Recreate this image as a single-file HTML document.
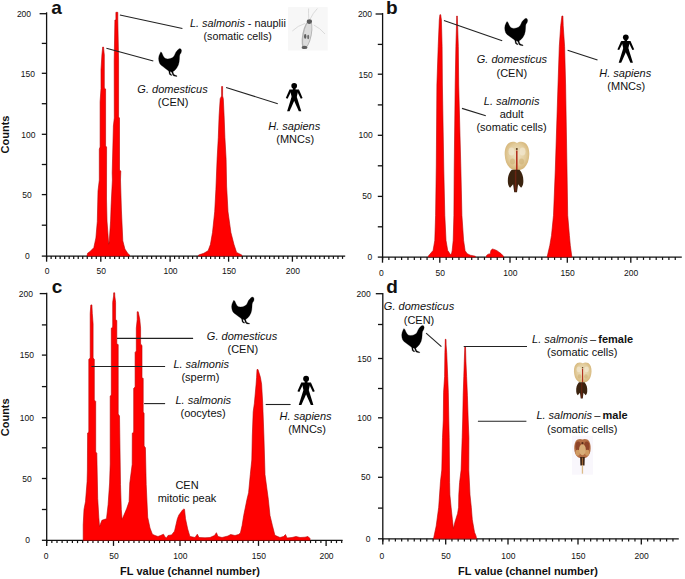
<!DOCTYPE html>
<html><head><meta charset="utf-8"><style>
html,body{margin:0;padding:0;background:#fff;}
body{width:685px;height:579px;overflow:hidden;}
svg{display:block;}
text{font-family:"Liberation Sans",sans-serif;fill:#111;}
.tk{font-size:8.5px;}
.an{font-size:11px;}
.ax{font-size:11px;font-weight:bold;}
.pl{font-size:19px;font-weight:bold;}
</style></head><body>
<svg width="685" height="579" viewBox="0 0 685 579">
<defs><radialGradient id="beige" cx="0.5" cy="0.45" r="0.6"><stop offset="0" stop-color="#efe3c6"/><stop offset="0.6" stop-color="#e2cc9c"/><stop offset="1" stop-color="#d2af6e"/></radialGradient></defs>
<rect width="685" height="579" fill="#fff"/>
<line x1="46.6" y1="12.3" x2="46.6" y2="258.7" stroke="#111" stroke-width="1.3"/>
<line x1="46.0" y1="256.1" x2="345.2" y2="256.1" stroke="#111" stroke-width="1.3"/>
<line x1="46.60" y1="256.1" x2="46.60" y2="261.7" stroke="#111" stroke-width="1.3"/>
<line x1="51.12" y1="256.1" x2="51.12" y2="258.9" stroke="#111" stroke-width="1.2"/>
<line x1="55.63" y1="256.1" x2="55.63" y2="258.9" stroke="#111" stroke-width="1.2"/>
<line x1="60.15" y1="256.1" x2="60.15" y2="258.9" stroke="#111" stroke-width="1.2"/>
<line x1="64.67" y1="256.1" x2="64.67" y2="258.9" stroke="#111" stroke-width="1.2"/>
<line x1="69.18" y1="256.1" x2="69.18" y2="258.9" stroke="#111" stroke-width="1.2"/>
<line x1="73.70" y1="256.1" x2="73.70" y2="258.9" stroke="#111" stroke-width="1.2"/>
<line x1="78.22" y1="256.1" x2="78.22" y2="258.9" stroke="#111" stroke-width="1.2"/>
<line x1="82.73" y1="256.1" x2="82.73" y2="258.9" stroke="#111" stroke-width="1.2"/>
<line x1="87.25" y1="256.1" x2="87.25" y2="258.9" stroke="#111" stroke-width="1.2"/>
<line x1="91.77" y1="256.1" x2="91.77" y2="258.9" stroke="#111" stroke-width="1.2"/>
<line x1="96.28" y1="256.1" x2="96.28" y2="258.9" stroke="#111" stroke-width="1.2"/>
<line x1="100.80" y1="256.1" x2="100.80" y2="261.7" stroke="#111" stroke-width="1.3"/>
<line x1="105.42" y1="256.1" x2="105.42" y2="258.9" stroke="#111" stroke-width="1.2"/>
<line x1="110.04" y1="256.1" x2="110.04" y2="258.9" stroke="#111" stroke-width="1.2"/>
<line x1="114.66" y1="256.1" x2="114.66" y2="258.9" stroke="#111" stroke-width="1.2"/>
<line x1="119.28" y1="256.1" x2="119.28" y2="258.9" stroke="#111" stroke-width="1.2"/>
<line x1="123.90" y1="256.1" x2="123.90" y2="258.9" stroke="#111" stroke-width="1.2"/>
<line x1="128.52" y1="256.1" x2="128.52" y2="258.9" stroke="#111" stroke-width="1.2"/>
<line x1="133.14" y1="256.1" x2="133.14" y2="258.9" stroke="#111" stroke-width="1.2"/>
<line x1="137.76" y1="256.1" x2="137.76" y2="258.9" stroke="#111" stroke-width="1.2"/>
<line x1="142.38" y1="256.1" x2="142.38" y2="258.9" stroke="#111" stroke-width="1.2"/>
<line x1="147.00" y1="256.1" x2="147.00" y2="258.9" stroke="#111" stroke-width="1.2"/>
<line x1="151.62" y1="256.1" x2="151.62" y2="258.9" stroke="#111" stroke-width="1.2"/>
<line x1="156.24" y1="256.1" x2="156.24" y2="258.9" stroke="#111" stroke-width="1.2"/>
<line x1="160.86" y1="256.1" x2="160.86" y2="258.9" stroke="#111" stroke-width="1.2"/>
<line x1="165.48" y1="256.1" x2="165.48" y2="258.9" stroke="#111" stroke-width="1.2"/>
<line x1="170.10" y1="256.1" x2="170.10" y2="261.7" stroke="#111" stroke-width="1.3"/>
<line x1="174.60" y1="256.1" x2="174.60" y2="258.9" stroke="#111" stroke-width="1.2"/>
<line x1="179.10" y1="256.1" x2="179.10" y2="258.9" stroke="#111" stroke-width="1.2"/>
<line x1="183.60" y1="256.1" x2="183.60" y2="258.9" stroke="#111" stroke-width="1.2"/>
<line x1="188.10" y1="256.1" x2="188.10" y2="258.9" stroke="#111" stroke-width="1.2"/>
<line x1="192.60" y1="256.1" x2="192.60" y2="258.9" stroke="#111" stroke-width="1.2"/>
<line x1="197.10" y1="256.1" x2="197.10" y2="258.9" stroke="#111" stroke-width="1.2"/>
<line x1="201.60" y1="256.1" x2="201.60" y2="258.9" stroke="#111" stroke-width="1.2"/>
<line x1="206.10" y1="256.1" x2="206.10" y2="258.9" stroke="#111" stroke-width="1.2"/>
<line x1="210.60" y1="256.1" x2="210.60" y2="258.9" stroke="#111" stroke-width="1.2"/>
<line x1="215.10" y1="256.1" x2="215.10" y2="258.9" stroke="#111" stroke-width="1.2"/>
<line x1="219.60" y1="256.1" x2="219.60" y2="258.9" stroke="#111" stroke-width="1.2"/>
<line x1="224.10" y1="256.1" x2="224.10" y2="258.9" stroke="#111" stroke-width="1.2"/>
<line x1="228.60" y1="256.1" x2="228.60" y2="261.7" stroke="#111" stroke-width="1.3"/>
<line x1="233.16" y1="256.1" x2="233.16" y2="258.9" stroke="#111" stroke-width="1.2"/>
<line x1="237.71" y1="256.1" x2="237.71" y2="258.9" stroke="#111" stroke-width="1.2"/>
<line x1="242.27" y1="256.1" x2="242.27" y2="258.9" stroke="#111" stroke-width="1.2"/>
<line x1="246.83" y1="256.1" x2="246.83" y2="258.9" stroke="#111" stroke-width="1.2"/>
<line x1="251.39" y1="256.1" x2="251.39" y2="258.9" stroke="#111" stroke-width="1.2"/>
<line x1="255.94" y1="256.1" x2="255.94" y2="258.9" stroke="#111" stroke-width="1.2"/>
<line x1="260.50" y1="256.1" x2="260.50" y2="258.9" stroke="#111" stroke-width="1.2"/>
<line x1="265.06" y1="256.1" x2="265.06" y2="258.9" stroke="#111" stroke-width="1.2"/>
<line x1="269.61" y1="256.1" x2="269.61" y2="258.9" stroke="#111" stroke-width="1.2"/>
<line x1="274.17" y1="256.1" x2="274.17" y2="258.9" stroke="#111" stroke-width="1.2"/>
<line x1="278.73" y1="256.1" x2="278.73" y2="258.9" stroke="#111" stroke-width="1.2"/>
<line x1="283.29" y1="256.1" x2="283.29" y2="258.9" stroke="#111" stroke-width="1.2"/>
<line x1="287.84" y1="256.1" x2="287.84" y2="258.9" stroke="#111" stroke-width="1.2"/>
<line x1="292.40" y1="256.1" x2="292.40" y2="261.7" stroke="#111" stroke-width="1.3"/>
<line x1="296.96" y1="256.1" x2="296.96" y2="258.9" stroke="#111" stroke-width="1.2"/>
<line x1="301.51" y1="256.1" x2="301.51" y2="258.9" stroke="#111" stroke-width="1.2"/>
<line x1="306.07" y1="256.1" x2="306.07" y2="258.9" stroke="#111" stroke-width="1.2"/>
<line x1="310.63" y1="256.1" x2="310.63" y2="258.9" stroke="#111" stroke-width="1.2"/>
<line x1="315.19" y1="256.1" x2="315.19" y2="258.9" stroke="#111" stroke-width="1.2"/>
<line x1="319.74" y1="256.1" x2="319.74" y2="258.9" stroke="#111" stroke-width="1.2"/>
<line x1="324.30" y1="256.1" x2="324.30" y2="258.9" stroke="#111" stroke-width="1.2"/>
<line x1="328.86" y1="256.1" x2="328.86" y2="258.9" stroke="#111" stroke-width="1.2"/>
<line x1="333.41" y1="256.1" x2="333.41" y2="258.9" stroke="#111" stroke-width="1.2"/>
<line x1="337.97" y1="256.1" x2="337.97" y2="258.9" stroke="#111" stroke-width="1.2"/>
<line x1="342.53" y1="256.1" x2="342.53" y2="258.9" stroke="#111" stroke-width="1.2"/>
<text x="47.00" y="273.8" class="tk" text-anchor="middle">0</text>
<text x="101.20" y="273.8" class="tk" text-anchor="middle">50</text>
<text x="170.50" y="273.8" class="tk" text-anchor="middle">100</text>
<text x="229.00" y="273.8" class="tk" text-anchor="middle">150</text>
<text x="292.80" y="273.8" class="tk" text-anchor="middle">200</text>
<line x1="39.6" y1="13.7" x2="46.6" y2="13.7" stroke="#111" stroke-width="1.3"/>
<line x1="41.8" y1="43.4" x2="46.6" y2="43.4" stroke="#111" stroke-width="1.3"/>
<line x1="41.8" y1="73.3" x2="46.6" y2="73.3" stroke="#111" stroke-width="1.3"/>
<line x1="41.8" y1="103.7" x2="46.6" y2="103.7" stroke="#111" stroke-width="1.3"/>
<line x1="41.8" y1="134.3" x2="46.6" y2="134.3" stroke="#111" stroke-width="1.3"/>
<line x1="41.8" y1="164.5" x2="46.6" y2="164.5" stroke="#111" stroke-width="1.3"/>
<line x1="41.8" y1="194.6" x2="46.6" y2="194.6" stroke="#111" stroke-width="1.3"/>
<line x1="41.8" y1="225.2" x2="46.6" y2="225.2" stroke="#111" stroke-width="1.3"/>
<line x1="41.8" y1="256.1" x2="46.6" y2="256.1" stroke="#111" stroke-width="1.3"/>
<text x="16.9" y="16.95" class="tk">200</text>
<text x="20.8" y="77.35" class="tk">150</text>
<text x="21.2" y="138.05" class="tk">100</text>
<text x="22.3" y="198.15" class="tk">50</text>
<text x="24.9" y="258.95" class="tk">0</text>
<text x="5.2" y="134.5" class="ax" text-anchor="middle" dominant-baseline="central" transform="rotate(-90 5.2 134.5)">Counts</text>
<line x1="382.6" y1="13.0" x2="382.6" y2="259.7" stroke="#111" stroke-width="1.3"/>
<line x1="382.0" y1="257.1" x2="681.8" y2="257.1" stroke="#111" stroke-width="1.3"/>
<line x1="382.50" y1="257.1" x2="382.50" y2="262.7" stroke="#111" stroke-width="1.3"/>
<line x1="388.87" y1="257.1" x2="388.87" y2="259.9" stroke="#111" stroke-width="1.2"/>
<line x1="395.23" y1="257.1" x2="395.23" y2="259.9" stroke="#111" stroke-width="1.2"/>
<line x1="401.60" y1="257.1" x2="401.60" y2="259.9" stroke="#111" stroke-width="1.2"/>
<line x1="407.97" y1="257.1" x2="407.97" y2="259.9" stroke="#111" stroke-width="1.2"/>
<line x1="414.33" y1="257.1" x2="414.33" y2="259.9" stroke="#111" stroke-width="1.2"/>
<line x1="420.70" y1="257.1" x2="420.70" y2="259.9" stroke="#111" stroke-width="1.2"/>
<line x1="427.07" y1="257.1" x2="427.07" y2="259.9" stroke="#111" stroke-width="1.2"/>
<line x1="433.43" y1="257.1" x2="433.43" y2="259.9" stroke="#111" stroke-width="1.2"/>
<line x1="439.80" y1="257.1" x2="439.80" y2="262.7" stroke="#111" stroke-width="1.3"/>
<line x1="446.18" y1="257.1" x2="446.18" y2="259.9" stroke="#111" stroke-width="1.2"/>
<line x1="452.56" y1="257.1" x2="452.56" y2="259.9" stroke="#111" stroke-width="1.2"/>
<line x1="458.95" y1="257.1" x2="458.95" y2="259.9" stroke="#111" stroke-width="1.2"/>
<line x1="465.33" y1="257.1" x2="465.33" y2="259.9" stroke="#111" stroke-width="1.2"/>
<line x1="471.71" y1="257.1" x2="471.71" y2="259.9" stroke="#111" stroke-width="1.2"/>
<line x1="478.09" y1="257.1" x2="478.09" y2="259.9" stroke="#111" stroke-width="1.2"/>
<line x1="484.47" y1="257.1" x2="484.47" y2="259.9" stroke="#111" stroke-width="1.2"/>
<line x1="490.85" y1="257.1" x2="490.85" y2="259.9" stroke="#111" stroke-width="1.2"/>
<line x1="497.24" y1="257.1" x2="497.24" y2="259.9" stroke="#111" stroke-width="1.2"/>
<line x1="503.62" y1="257.1" x2="503.62" y2="259.9" stroke="#111" stroke-width="1.2"/>
<line x1="510.00" y1="257.1" x2="510.00" y2="262.7" stroke="#111" stroke-width="1.3"/>
<line x1="516.37" y1="257.1" x2="516.37" y2="259.9" stroke="#111" stroke-width="1.2"/>
<line x1="522.73" y1="257.1" x2="522.73" y2="259.9" stroke="#111" stroke-width="1.2"/>
<line x1="529.10" y1="257.1" x2="529.10" y2="259.9" stroke="#111" stroke-width="1.2"/>
<line x1="535.47" y1="257.1" x2="535.47" y2="259.9" stroke="#111" stroke-width="1.2"/>
<line x1="541.83" y1="257.1" x2="541.83" y2="259.9" stroke="#111" stroke-width="1.2"/>
<line x1="548.20" y1="257.1" x2="548.20" y2="259.9" stroke="#111" stroke-width="1.2"/>
<line x1="554.57" y1="257.1" x2="554.57" y2="259.9" stroke="#111" stroke-width="1.2"/>
<line x1="560.93" y1="257.1" x2="560.93" y2="259.9" stroke="#111" stroke-width="1.2"/>
<line x1="567.30" y1="257.1" x2="567.30" y2="262.7" stroke="#111" stroke-width="1.3"/>
<line x1="573.65" y1="257.1" x2="573.65" y2="259.9" stroke="#111" stroke-width="1.2"/>
<line x1="580.00" y1="257.1" x2="580.00" y2="259.9" stroke="#111" stroke-width="1.2"/>
<line x1="586.35" y1="257.1" x2="586.35" y2="259.9" stroke="#111" stroke-width="1.2"/>
<line x1="592.70" y1="257.1" x2="592.70" y2="259.9" stroke="#111" stroke-width="1.2"/>
<line x1="599.05" y1="257.1" x2="599.05" y2="259.9" stroke="#111" stroke-width="1.2"/>
<line x1="605.40" y1="257.1" x2="605.40" y2="259.9" stroke="#111" stroke-width="1.2"/>
<line x1="611.75" y1="257.1" x2="611.75" y2="259.9" stroke="#111" stroke-width="1.2"/>
<line x1="618.10" y1="257.1" x2="618.10" y2="259.9" stroke="#111" stroke-width="1.2"/>
<line x1="624.45" y1="257.1" x2="624.45" y2="259.9" stroke="#111" stroke-width="1.2"/>
<line x1="630.80" y1="257.1" x2="630.80" y2="262.7" stroke="#111" stroke-width="1.3"/>
<line x1="637.15" y1="257.1" x2="637.15" y2="259.9" stroke="#111" stroke-width="1.2"/>
<line x1="643.50" y1="257.1" x2="643.50" y2="259.9" stroke="#111" stroke-width="1.2"/>
<line x1="649.85" y1="257.1" x2="649.85" y2="259.9" stroke="#111" stroke-width="1.2"/>
<line x1="656.20" y1="257.1" x2="656.20" y2="259.9" stroke="#111" stroke-width="1.2"/>
<line x1="662.55" y1="257.1" x2="662.55" y2="259.9" stroke="#111" stroke-width="1.2"/>
<line x1="668.90" y1="257.1" x2="668.90" y2="259.9" stroke="#111" stroke-width="1.2"/>
<line x1="675.25" y1="257.1" x2="675.25" y2="259.9" stroke="#111" stroke-width="1.2"/>
<text x="381.40" y="276.0" class="tk" text-anchor="middle">0</text>
<text x="440.20" y="276.0" class="tk" text-anchor="middle">50</text>
<text x="510.40" y="276.0" class="tk" text-anchor="middle">100</text>
<text x="567.70" y="276.0" class="tk" text-anchor="middle">150</text>
<text x="631.20" y="276.0" class="tk" text-anchor="middle">200</text>
<line x1="375.6" y1="14.0" x2="382.6" y2="14.0" stroke="#111" stroke-width="1.3"/>
<line x1="377.8" y1="44.4" x2="382.6" y2="44.4" stroke="#111" stroke-width="1.3"/>
<line x1="377.8" y1="74.2" x2="382.6" y2="74.2" stroke="#111" stroke-width="1.3"/>
<line x1="377.8" y1="104.9" x2="382.6" y2="104.9" stroke="#111" stroke-width="1.3"/>
<line x1="377.8" y1="135.3" x2="382.6" y2="135.3" stroke="#111" stroke-width="1.3"/>
<line x1="377.8" y1="165.8" x2="382.6" y2="165.8" stroke="#111" stroke-width="1.3"/>
<line x1="377.8" y1="196.4" x2="382.6" y2="196.4" stroke="#111" stroke-width="1.3"/>
<line x1="377.8" y1="226.8" x2="382.6" y2="226.8" stroke="#111" stroke-width="1.3"/>
<line x1="377.8" y1="257.1" x2="382.6" y2="257.1" stroke="#111" stroke-width="1.3"/>
<text x="357.9" y="17.05" class="tk">200</text>
<text x="358.6" y="77.55" class="tk">150</text>
<text x="358.6" y="138.35" class="tk">100</text>
<text x="362.2" y="199.25" class="tk">50</text>
<text x="367.5" y="260.35" class="tk">0</text>
<line x1="46.7" y1="292.8" x2="46.7" y2="542.9" stroke="#111" stroke-width="1.3"/>
<line x1="46.1" y1="540.3" x2="342.6" y2="540.3" stroke="#111" stroke-width="1.3"/>
<line x1="46.70" y1="540.3" x2="46.70" y2="545.9" stroke="#111" stroke-width="1.3"/>
<line x1="51.84" y1="540.3" x2="51.84" y2="543.1" stroke="#111" stroke-width="1.2"/>
<line x1="56.98" y1="540.3" x2="56.98" y2="543.1" stroke="#111" stroke-width="1.2"/>
<line x1="62.12" y1="540.3" x2="62.12" y2="543.1" stroke="#111" stroke-width="1.2"/>
<line x1="67.25" y1="540.3" x2="67.25" y2="543.1" stroke="#111" stroke-width="1.2"/>
<line x1="72.39" y1="540.3" x2="72.39" y2="543.1" stroke="#111" stroke-width="1.2"/>
<line x1="77.53" y1="540.3" x2="77.53" y2="543.1" stroke="#111" stroke-width="1.2"/>
<line x1="82.67" y1="540.3" x2="82.67" y2="543.1" stroke="#111" stroke-width="1.2"/>
<line x1="87.81" y1="540.3" x2="87.81" y2="543.1" stroke="#111" stroke-width="1.2"/>
<line x1="92.95" y1="540.3" x2="92.95" y2="543.1" stroke="#111" stroke-width="1.2"/>
<line x1="98.08" y1="540.3" x2="98.08" y2="543.1" stroke="#111" stroke-width="1.2"/>
<line x1="103.22" y1="540.3" x2="103.22" y2="543.1" stroke="#111" stroke-width="1.2"/>
<line x1="108.36" y1="540.3" x2="108.36" y2="543.1" stroke="#111" stroke-width="1.2"/>
<line x1="113.50" y1="540.3" x2="113.50" y2="545.9" stroke="#111" stroke-width="1.3"/>
<line x1="118.62" y1="540.3" x2="118.62" y2="543.1" stroke="#111" stroke-width="1.2"/>
<line x1="123.73" y1="540.3" x2="123.73" y2="543.1" stroke="#111" stroke-width="1.2"/>
<line x1="128.85" y1="540.3" x2="128.85" y2="543.1" stroke="#111" stroke-width="1.2"/>
<line x1="133.96" y1="540.3" x2="133.96" y2="543.1" stroke="#111" stroke-width="1.2"/>
<line x1="139.08" y1="540.3" x2="139.08" y2="543.1" stroke="#111" stroke-width="1.2"/>
<line x1="144.19" y1="540.3" x2="144.19" y2="543.1" stroke="#111" stroke-width="1.2"/>
<line x1="149.31" y1="540.3" x2="149.31" y2="543.1" stroke="#111" stroke-width="1.2"/>
<line x1="154.42" y1="540.3" x2="154.42" y2="543.1" stroke="#111" stroke-width="1.2"/>
<line x1="159.54" y1="540.3" x2="159.54" y2="543.1" stroke="#111" stroke-width="1.2"/>
<line x1="164.65" y1="540.3" x2="164.65" y2="543.1" stroke="#111" stroke-width="1.2"/>
<line x1="169.77" y1="540.3" x2="169.77" y2="543.1" stroke="#111" stroke-width="1.2"/>
<line x1="174.88" y1="540.3" x2="174.88" y2="543.1" stroke="#111" stroke-width="1.2"/>
<line x1="180.00" y1="540.3" x2="180.00" y2="545.9" stroke="#111" stroke-width="1.3"/>
<line x1="185.23" y1="540.3" x2="185.23" y2="543.1" stroke="#111" stroke-width="1.2"/>
<line x1="190.47" y1="540.3" x2="190.47" y2="543.1" stroke="#111" stroke-width="1.2"/>
<line x1="195.70" y1="540.3" x2="195.70" y2="543.1" stroke="#111" stroke-width="1.2"/>
<line x1="200.93" y1="540.3" x2="200.93" y2="543.1" stroke="#111" stroke-width="1.2"/>
<line x1="206.17" y1="540.3" x2="206.17" y2="543.1" stroke="#111" stroke-width="1.2"/>
<line x1="211.40" y1="540.3" x2="211.40" y2="543.1" stroke="#111" stroke-width="1.2"/>
<line x1="216.63" y1="540.3" x2="216.63" y2="543.1" stroke="#111" stroke-width="1.2"/>
<line x1="221.87" y1="540.3" x2="221.87" y2="543.1" stroke="#111" stroke-width="1.2"/>
<line x1="227.10" y1="540.3" x2="227.10" y2="543.1" stroke="#111" stroke-width="1.2"/>
<line x1="232.33" y1="540.3" x2="232.33" y2="543.1" stroke="#111" stroke-width="1.2"/>
<line x1="237.57" y1="540.3" x2="237.57" y2="543.1" stroke="#111" stroke-width="1.2"/>
<line x1="242.80" y1="540.3" x2="242.80" y2="543.1" stroke="#111" stroke-width="1.2"/>
<line x1="248.03" y1="540.3" x2="248.03" y2="543.1" stroke="#111" stroke-width="1.2"/>
<line x1="253.27" y1="540.3" x2="253.27" y2="543.1" stroke="#111" stroke-width="1.2"/>
<line x1="258.50" y1="540.3" x2="258.50" y2="545.9" stroke="#111" stroke-width="1.3"/>
<line x1="263.70" y1="540.3" x2="263.70" y2="543.1" stroke="#111" stroke-width="1.2"/>
<line x1="268.90" y1="540.3" x2="268.90" y2="543.1" stroke="#111" stroke-width="1.2"/>
<line x1="274.10" y1="540.3" x2="274.10" y2="543.1" stroke="#111" stroke-width="1.2"/>
<line x1="279.30" y1="540.3" x2="279.30" y2="543.1" stroke="#111" stroke-width="1.2"/>
<line x1="284.50" y1="540.3" x2="284.50" y2="543.1" stroke="#111" stroke-width="1.2"/>
<line x1="289.70" y1="540.3" x2="289.70" y2="543.1" stroke="#111" stroke-width="1.2"/>
<line x1="294.90" y1="540.3" x2="294.90" y2="543.1" stroke="#111" stroke-width="1.2"/>
<line x1="300.10" y1="540.3" x2="300.10" y2="543.1" stroke="#111" stroke-width="1.2"/>
<line x1="305.30" y1="540.3" x2="305.30" y2="543.1" stroke="#111" stroke-width="1.2"/>
<line x1="310.50" y1="540.3" x2="310.50" y2="543.1" stroke="#111" stroke-width="1.2"/>
<line x1="315.70" y1="540.3" x2="315.70" y2="543.1" stroke="#111" stroke-width="1.2"/>
<line x1="320.90" y1="540.3" x2="320.90" y2="543.1" stroke="#111" stroke-width="1.2"/>
<line x1="326.10" y1="540.3" x2="326.10" y2="545.9" stroke="#111" stroke-width="1.3"/>
<line x1="331.30" y1="540.3" x2="331.30" y2="543.1" stroke="#111" stroke-width="1.2"/>
<line x1="336.50" y1="540.3" x2="336.50" y2="543.1" stroke="#111" stroke-width="1.2"/>
<line x1="341.70" y1="540.3" x2="341.70" y2="543.1" stroke="#111" stroke-width="1.2"/>
<text x="46.20" y="558.9" class="tk" text-anchor="middle">0</text>
<text x="113.90" y="558.9" class="tk" text-anchor="middle">50</text>
<text x="180.40" y="558.9" class="tk" text-anchor="middle">100</text>
<text x="258.90" y="558.9" class="tk" text-anchor="middle">150</text>
<text x="326.50" y="558.9" class="tk" text-anchor="middle">200</text>
<line x1="39.7" y1="293.6" x2="46.7" y2="293.6" stroke="#111" stroke-width="1.3"/>
<line x1="41.9" y1="324.9" x2="46.7" y2="324.9" stroke="#111" stroke-width="1.3"/>
<line x1="41.9" y1="355.1" x2="46.7" y2="355.1" stroke="#111" stroke-width="1.3"/>
<line x1="41.9" y1="386.6" x2="46.7" y2="386.6" stroke="#111" stroke-width="1.3"/>
<line x1="41.9" y1="417.7" x2="46.7" y2="417.7" stroke="#111" stroke-width="1.3"/>
<line x1="41.9" y1="447.8" x2="46.7" y2="447.8" stroke="#111" stroke-width="1.3"/>
<line x1="41.9" y1="478.5" x2="46.7" y2="478.5" stroke="#111" stroke-width="1.3"/>
<line x1="41.9" y1="509.5" x2="46.7" y2="509.5" stroke="#111" stroke-width="1.3"/>
<line x1="41.9" y1="540.3" x2="46.7" y2="540.3" stroke="#111" stroke-width="1.3"/>
<text x="18.7" y="296.85" class="tk">200</text>
<text x="19.7" y="358.25" class="tk">150</text>
<text x="19.7" y="420.75" class="tk">100</text>
<text x="22.2" y="481.55" class="tk">50</text>
<text x="25.2" y="543.35" class="tk">0</text>
<text x="5.2" y="417.3" class="ax" text-anchor="middle" dominant-baseline="central" transform="rotate(-90 5.2 417.3)">Counts</text>
<line x1="382.8" y1="292.9" x2="382.8" y2="541.4" stroke="#111" stroke-width="1.3"/>
<line x1="382.2" y1="538.8" x2="678.8" y2="538.8" stroke="#111" stroke-width="1.3"/>
<line x1="382.80" y1="538.8" x2="382.80" y2="544.4" stroke="#111" stroke-width="1.3"/>
<line x1="389.09" y1="538.8" x2="389.09" y2="541.6" stroke="#111" stroke-width="1.2"/>
<line x1="395.38" y1="538.8" x2="395.38" y2="541.6" stroke="#111" stroke-width="1.2"/>
<line x1="401.67" y1="538.8" x2="401.67" y2="541.6" stroke="#111" stroke-width="1.2"/>
<line x1="407.96" y1="538.8" x2="407.96" y2="541.6" stroke="#111" stroke-width="1.2"/>
<line x1="414.25" y1="538.8" x2="414.25" y2="541.6" stroke="#111" stroke-width="1.2"/>
<line x1="420.54" y1="538.8" x2="420.54" y2="541.6" stroke="#111" stroke-width="1.2"/>
<line x1="426.83" y1="538.8" x2="426.83" y2="541.6" stroke="#111" stroke-width="1.2"/>
<line x1="433.12" y1="538.8" x2="433.12" y2="541.6" stroke="#111" stroke-width="1.2"/>
<line x1="439.41" y1="538.8" x2="439.41" y2="541.6" stroke="#111" stroke-width="1.2"/>
<line x1="445.70" y1="538.8" x2="445.70" y2="544.4" stroke="#111" stroke-width="1.3"/>
<line x1="451.93" y1="538.8" x2="451.93" y2="541.6" stroke="#111" stroke-width="1.2"/>
<line x1="458.16" y1="538.8" x2="458.16" y2="541.6" stroke="#111" stroke-width="1.2"/>
<line x1="464.39" y1="538.8" x2="464.39" y2="541.6" stroke="#111" stroke-width="1.2"/>
<line x1="470.62" y1="538.8" x2="470.62" y2="541.6" stroke="#111" stroke-width="1.2"/>
<line x1="476.85" y1="538.8" x2="476.85" y2="541.6" stroke="#111" stroke-width="1.2"/>
<line x1="483.08" y1="538.8" x2="483.08" y2="541.6" stroke="#111" stroke-width="1.2"/>
<line x1="489.31" y1="538.8" x2="489.31" y2="541.6" stroke="#111" stroke-width="1.2"/>
<line x1="495.54" y1="538.8" x2="495.54" y2="541.6" stroke="#111" stroke-width="1.2"/>
<line x1="501.77" y1="538.8" x2="501.77" y2="541.6" stroke="#111" stroke-width="1.2"/>
<line x1="508.00" y1="538.8" x2="508.00" y2="544.4" stroke="#111" stroke-width="1.3"/>
<line x1="514.36" y1="538.8" x2="514.36" y2="541.6" stroke="#111" stroke-width="1.2"/>
<line x1="520.73" y1="538.8" x2="520.73" y2="541.6" stroke="#111" stroke-width="1.2"/>
<line x1="527.09" y1="538.8" x2="527.09" y2="541.6" stroke="#111" stroke-width="1.2"/>
<line x1="533.45" y1="538.8" x2="533.45" y2="541.6" stroke="#111" stroke-width="1.2"/>
<line x1="539.82" y1="538.8" x2="539.82" y2="541.6" stroke="#111" stroke-width="1.2"/>
<line x1="546.18" y1="538.8" x2="546.18" y2="541.6" stroke="#111" stroke-width="1.2"/>
<line x1="552.55" y1="538.8" x2="552.55" y2="541.6" stroke="#111" stroke-width="1.2"/>
<line x1="558.91" y1="538.8" x2="558.91" y2="541.6" stroke="#111" stroke-width="1.2"/>
<line x1="565.27" y1="538.8" x2="565.27" y2="541.6" stroke="#111" stroke-width="1.2"/>
<line x1="571.64" y1="538.8" x2="571.64" y2="541.6" stroke="#111" stroke-width="1.2"/>
<line x1="578.00" y1="538.8" x2="578.00" y2="544.4" stroke="#111" stroke-width="1.3"/>
<line x1="584.33" y1="538.8" x2="584.33" y2="541.6" stroke="#111" stroke-width="1.2"/>
<line x1="590.66" y1="538.8" x2="590.66" y2="541.6" stroke="#111" stroke-width="1.2"/>
<line x1="596.99" y1="538.8" x2="596.99" y2="541.6" stroke="#111" stroke-width="1.2"/>
<line x1="603.32" y1="538.8" x2="603.32" y2="541.6" stroke="#111" stroke-width="1.2"/>
<line x1="609.65" y1="538.8" x2="609.65" y2="541.6" stroke="#111" stroke-width="1.2"/>
<line x1="615.98" y1="538.8" x2="615.98" y2="541.6" stroke="#111" stroke-width="1.2"/>
<line x1="622.31" y1="538.8" x2="622.31" y2="541.6" stroke="#111" stroke-width="1.2"/>
<line x1="628.64" y1="538.8" x2="628.64" y2="541.6" stroke="#111" stroke-width="1.2"/>
<line x1="634.97" y1="538.8" x2="634.97" y2="541.6" stroke="#111" stroke-width="1.2"/>
<line x1="641.30" y1="538.8" x2="641.30" y2="544.4" stroke="#111" stroke-width="1.3"/>
<line x1="647.63" y1="538.8" x2="647.63" y2="541.6" stroke="#111" stroke-width="1.2"/>
<line x1="653.96" y1="538.8" x2="653.96" y2="541.6" stroke="#111" stroke-width="1.2"/>
<line x1="660.29" y1="538.8" x2="660.29" y2="541.6" stroke="#111" stroke-width="1.2"/>
<line x1="666.62" y1="538.8" x2="666.62" y2="541.6" stroke="#111" stroke-width="1.2"/>
<line x1="672.95" y1="538.8" x2="672.95" y2="541.6" stroke="#111" stroke-width="1.2"/>
<text x="381.90" y="558.6" class="tk" text-anchor="middle">0</text>
<text x="446.10" y="558.6" class="tk" text-anchor="middle">50</text>
<text x="508.40" y="558.6" class="tk" text-anchor="middle">100</text>
<text x="578.40" y="558.6" class="tk" text-anchor="middle">150</text>
<text x="641.70" y="558.6" class="tk" text-anchor="middle">200</text>
<line x1="375.8" y1="293.7" x2="382.8" y2="293.7" stroke="#111" stroke-width="1.3"/>
<line x1="378.0" y1="324.5" x2="382.8" y2="324.5" stroke="#111" stroke-width="1.3"/>
<line x1="378.0" y1="358.5" x2="382.8" y2="358.5" stroke="#111" stroke-width="1.3"/>
<line x1="378.0" y1="388.5" x2="382.8" y2="388.5" stroke="#111" stroke-width="1.3"/>
<line x1="378.0" y1="417.8" x2="382.8" y2="417.8" stroke="#111" stroke-width="1.3"/>
<line x1="378.0" y1="447.5" x2="382.8" y2="447.5" stroke="#111" stroke-width="1.3"/>
<line x1="378.0" y1="477.3" x2="382.8" y2="477.3" stroke="#111" stroke-width="1.3"/>
<line x1="378.0" y1="508.1" x2="382.8" y2="508.1" stroke="#111" stroke-width="1.3"/>
<line x1="378.0" y1="538.8" x2="382.8" y2="538.8" stroke="#111" stroke-width="1.3"/>
<text x="356.6" y="296.95" class="tk">200</text>
<text x="357.2" y="361.65" class="tk">150</text>
<text x="357.2" y="421.05" class="tk">100</text>
<text x="361.1" y="480.35" class="tk">50</text>
<text x="365.8" y="541.55" class="tk">0</text>
<text x="190" y="575.2" class="ax" text-anchor="middle">FL value (channel number)</text>
<text x="528" y="575.0" class="ax" text-anchor="middle">FL value (channel number)</text>
<text x="51.3" y="13.8" class="pl">a</text>
<text x="386.0" y="13.8" class="pl">b</text>
<text x="51.8" y="293.4" class="pl">c</text>
<text x="386.3" y="293.4" class="pl">d</text>
<path d="M87.0,256.1 L87.6,253.2 L89.7,251.8 L93.8,247.7 L95.9,238.0 L97.3,221.4 L98.0,191.0 L99.3,180.0 L99.3,149.0 L100.1,147.0 L100.1,101.7 L101.0,88.4 L101.0,70.0 L101.9,55.0 L102.6,48.0 L102.6,47.1 L103.6,47.1 L103.6,48.0 L104.3,55.0 L104.3,88.0 L105.6,89.0 L105.6,146.0 L106.6,147.0 L106.5,199.0 L107.0,221.0 L108.7,244.2 L109.3,240.8 L110.6,221.0 L111.1,206.0 L112.4,180.0 L112.2,173.0 L113.4,126.0 L114.3,118.0 L114.2,61.0 L114.9,20.0 L115.9,20.0 L115.9,12.3 L117.8,12.3 L117.8,20.0 L118.6,61.0 L118.6,117.0 L119.5,118.0 L119.5,170.0 L120.8,171.0 L120.5,180.0 L121.4,210.0 L122.8,240.8 L124.9,249.0 L127.7,253.2 L129.5,255.0 L129.5,256.1 Z" fill="#ff0000" stroke="#b80000" stroke-width="0.6" stroke-linejoin="round"/>
<path d="M198.6,256.1 L198.6,255.0 L203.8,253.3 L208.1,250.7 L210.4,244.6 L212.5,232.5 L214.7,211.8 L215.9,189.4 L217.1,159.3 L218.3,137.5 L219.1,115.8 L220.2,98.7 L221.6,96.0 L221.6,86.5 L222.6,86.5 L222.6,96.0 L223.3,98.7 L224.1,115.8 L224.9,137.5 L226.1,159.3 L226.6,186.0 L228.0,211.8 L230.9,232.5 L234.0,244.6 L236.6,252.4 L241.8,255.0 L241.8,256.1 Z" fill="#ff0000" stroke="#b80000" stroke-width="0.6" stroke-linejoin="round"/>
<path d="M428.4,257.1 L428.4,256.0 L433.1,250.4 L434.8,240.4 L435.6,215.3 L436.3,165.0 L436.9,85.0 L438.2,46.4 L439.3,20.0 L439.9,14.7 L440.7,14.7 L441.4,20.0 L442.1,46.4 L442.4,85.0 L443.8,170.0 L444.8,215.3 L446.0,240.4 L447.7,250.4 L450.5,254.6 L451.5,254.0 L452.2,250.4 L453.2,240.4 L453.9,215.3 L454.2,170.0 L455.2,85.0 L455.9,46.4 L456.5,25.0 L456.7,16.0 L457.3,16.0 L457.6,25.0 L458.3,46.4 L458.7,85.0 L460.9,170.0 L461.9,215.3 L463.6,240.4 L465.1,250.7 L467.2,253.7 L470.3,255.2 L475.3,256.2 L475.3,257.1 Z" fill="#ff0000" stroke="#b80000" stroke-width="0.6" stroke-linejoin="round"/>
<path d="M486.4,257.1 L486.6,255.4 L488.2,254.2 L490.2,253.9 L490.9,250.6 L492.4,248.9 L493.8,249.4 L495.4,249.9 L497.0,250.7 L499.0,252.2 L501.0,253.6 L502.9,255.6 L503.6,257.1 Z" fill="#ff0000" stroke="#b80000" stroke-width="0.6" stroke-linejoin="round"/>
<path d="M547.1,257.1 L549.8,245.4 L551.5,235.4 L553.5,215.3 L555.3,170.0 L558.0,85.0 L559.3,46.4 L560.7,25.7 L561.9,16.0 L562.9,16.0 L563.2,25.7 L564.6,46.4 L565.6,85.0 L567.0,170.0 L567.7,215.3 L569.4,235.4 L570.3,245.4 L571.9,257.1 Z" fill="#ff0000" stroke="#b80000" stroke-width="0.6" stroke-linejoin="round"/>
<path d="M83.2,540.3 L83.2,525.0 L84.0,509.4 L85.5,501.6 L87.1,481.4 L87.4,470.0 L87.6,433.0 L88.8,432.0 L88.8,359.3 L90.2,358.0 L90.2,313.5 L90.8,305.0 L90.9,304.9 L91.9,304.9 L92.3,313.5 L93.1,323.9 L93.1,358.0 L94.3,359.3 L94.3,400.0 L95.7,401.4 L95.7,452.0 L96.8,453.2 L97.7,498.5 L98.8,517.2 L99.5,526.5 L101.9,520.3 L106.5,518.7 L108.1,504.7 L109.6,483.0 L110.2,464.0 L110.2,396.0 L111.3,395.0 L111.3,328.2 L112.7,327.0 L112.7,302.3 L113.6,296.0 L113.7,292.8 L114.7,292.8 L114.8,296.0 L115.6,302.3 L115.6,320.0 L116.8,320.4 L116.8,344.0 L118.2,344.6 L118.2,414.0 L119.5,415.9 L120.5,484.5 L121.3,509.4 L122.1,519.5 L126.7,508.6 L129.1,501.6 L129.8,483.0 L132.2,464.3 L132.3,433.2 L133.7,432.0 L133.7,388.3 L135.1,387.0 L135.1,352.4 L136.3,351.0 L136.3,328.2 L137.2,319.5 L137.2,311.8 L138.2,311.8 L139.8,319.5 L140.6,328.2 L140.6,344.0 L142.0,345.4 L142.0,378.0 L143.2,378.3 L143.2,412.0 L144.1,413.2 L144.1,446.0 L145.4,447.7 L146.2,484.5 L147.7,517.2 L150.0,528.0 L152.4,534.3 L155.0,535.5 L158.0,536.5 L160.5,535.5 L163.5,534.2 L165.0,537.0 L166.4,538.0 L168.0,535.5 L171.6,534.9 L174.5,531.2 L177.4,518.7 L178.9,515.0 L182.6,509.9 L183.5,509.2 L184.5,509.2 L185.5,518.7 L187.7,529.0 L189.9,536.4 L195.0,537.5 L197.3,534.2 L199.0,537.5 L205.0,537.8 L210.0,537.5 L214.5,535.5 L216.4,532.7 L218.0,536.5 L222.0,537.5 L228.0,536.0 L230.6,534.5 L235.0,535.5 L238.5,534.5 L240.4,532.9 L242.1,525.5 L243.7,515.6 L247.0,499.2 L248.6,492.7 L250.3,474.6 L251.8,460.0 L252.3,436.0 L253.2,411.8 L254.4,403.2 L256.1,384.2 L256.6,377.3 L257.0,369.5 L258.0,369.5 L260.4,377.3 L261.6,384.2 L262.7,403.2 L263.0,411.8 L263.9,436.0 L265.0,474.6 L267.2,491.0 L268.3,499.2 L270.0,515.6 L272.4,525.5 L274.9,535.3 L280.0,537.5 L283.5,536.5 L285.5,534.5 L287.0,538.0 L292.0,537.5 L296.0,536.5 L300.0,537.5 L305.0,537.2 L308.0,536.5 L310.0,538.5 L310.0,540.3 Z" fill="#ff0000" stroke="#b80000" stroke-width="0.6" stroke-linejoin="round"/>
<path d="M433.4,538.8 L433.7,537.8 L436.2,526.0 L438.7,507.3 L440.5,481.2 L441.8,470.0 L442.5,437.5 L443.3,420.0 L443.6,392.2 L444.6,376.6 L444.9,352.5 L445.2,345.0 L445.3,339.3 L446.0,339.3 L446.1,345.0 L446.7,352.5 L447.7,376.6 L448.3,392.2 L448.8,420.0 L449.2,437.5 L449.6,482.4 L449.9,494.9 L451.1,507.3 L452.4,519.8 L453.4,528.5 L454.9,522.2 L457.6,513.5 L458.6,507.3 L458.8,494.9 L459.6,482.4 L461.1,470.0 L462.2,437.5 L462.7,420.0 L463.2,395.3 L463.8,376.6 L464.3,361.1 L464.7,350.0 L464.8,346.8 L465.5,346.8 L465.6,350.0 L465.9,361.1 L466.6,376.6 L467.4,395.3 L468.2,420.0 L468.9,437.5 L468.8,470.0 L470.0,494.9 L471.3,507.3 L472.3,519.8 L474.5,532.2 L476.0,535.9 L476.6,538.8 Z" fill="#ff0000" stroke="#b80000" stroke-width="0.6" stroke-linejoin="round"/>
<line x1="119.9" y1="15.0" x2="182.4" y2="28.5" stroke="#222" stroke-width="1.1"/>
<line x1="106.4" y1="48.3" x2="153.3" y2="61.0" stroke="#222" stroke-width="1.1"/>
<line x1="226.1" y1="87.5" x2="277.8" y2="103.8" stroke="#222" stroke-width="1.1"/>
<line x1="443.9" y1="20.5" x2="502.2" y2="40.7" stroke="#222" stroke-width="1.1"/>
<line x1="462.0" y1="108.4" x2="485.8" y2="115.8" stroke="#222" stroke-width="1.1"/>
<line x1="567.6" y1="50.2" x2="597.5" y2="59.9" stroke="#222" stroke-width="1.1"/>
<line x1="117.0" y1="338.4" x2="193.1" y2="338.4" stroke="#222" stroke-width="1.1"/>
<line x1="91.4" y1="366.5" x2="165.1" y2="366.5" stroke="#222" stroke-width="1.1"/>
<line x1="144.1" y1="403.6" x2="165.1" y2="403.6" stroke="#222" stroke-width="1.1"/>
<line x1="265.7" y1="404.5" x2="290.6" y2="404.5" stroke="#222" stroke-width="1.1"/>
<line x1="426.1" y1="333.1" x2="441.4" y2="346.7" stroke="#222" stroke-width="1.1"/>
<line x1="463.7" y1="346.5" x2="527.0" y2="346.5" stroke="#222" stroke-width="1.1"/>
<line x1="477.9" y1="421.2" x2="526.4" y2="421.2" stroke="#222" stroke-width="1.1"/>
<text x="237.9" y="26.8" class="an" text-anchor="middle" style="font-size:10.85px"><tspan font-style="italic">L. salmonis</tspan> - nauplii</text>
<text x="237.7" y="39.7" class="an" text-anchor="middle" style="font-size:10.7px">(somatic cells)</text>
<text x="172.5" y="92.6" class="an" text-anchor="middle"><tspan font-style="italic">G. domesticus</tspan></text>
<text x="173.1" y="105.7" class="an" text-anchor="middle">(CEN)</text>
<text x="294.2" y="130.4" class="an" text-anchor="middle"><tspan font-style="italic">H. sapiens</tspan></text>
<text x="295.2" y="143.4" class="an" text-anchor="middle">(MNCs)</text>
<text x="511.9" y="62.6" class="an" text-anchor="middle"><tspan font-style="italic">G. domesticus</tspan></text>
<text x="511.8" y="76.5" class="an" text-anchor="middle">(CEN)</text>
<text x="511.6" y="104.9" class="an" text-anchor="middle"><tspan font-style="italic">L. salmonis</tspan></text>
<text x="511.6" y="117.8" class="an" text-anchor="middle">adult</text>
<text x="511.6" y="130.8" class="an" text-anchor="middle">(somatic cells)</text>
<text x="625.2" y="76.6" class="an" text-anchor="middle"><tspan font-style="italic">H. sapiens</tspan></text>
<text x="626.3" y="89.9" class="an" text-anchor="middle">(MNCs)</text>
<text x="242.0" y="339.6" class="an" text-anchor="middle"><tspan font-style="italic">G. domesticus</tspan></text>
<text x="242.8" y="353.0" class="an" text-anchor="middle">(CEN)</text>
<text x="201.2" y="367.7" class="an" text-anchor="middle"><tspan font-style="italic">L. salmonis</tspan></text>
<text x="200.4" y="380.7" class="an" text-anchor="middle">(sperm)</text>
<text x="203.3" y="403.7" class="an" text-anchor="middle"><tspan font-style="italic">L. salmonis</tspan></text>
<text x="203.1" y="416.9" class="an" text-anchor="middle">(oocytes)</text>
<text x="305.6" y="419.7" class="an" text-anchor="middle"><tspan font-style="italic">H. sapiens</tspan></text>
<text x="307.1" y="433.0" class="an" text-anchor="middle">(MNCs)</text>
<text x="187.0" y="488.6" class="an" text-anchor="middle">CEN</text>
<text x="187.0" y="501.6" class="an" text-anchor="middle">mitotic peak</text>
<text x="419.0" y="309.7" class="an" text-anchor="middle"><tspan font-style="italic">G. domesticus</tspan></text>
<text x="419.0" y="323.8" class="an" text-anchor="middle">(CEN)</text>
<text x="582.6" y="342.6" class="an" text-anchor="middle"><tspan font-style="italic">L. salmonis</tspan> – <tspan font-weight="bold">female</tspan></text>
<text x="582.2" y="355.5" class="an" text-anchor="middle">(somatic cells)</text>
<text x="582.0" y="418.8" class="an" text-anchor="middle"><tspan font-style="italic">L. salmonis</tspan> – <tspan font-weight="bold">male</tspan></text>
<text x="582.2" y="432.8" class="an" text-anchor="middle">(somatic cells)</text>
<path d="M2.23,3.17 L3.29,4.23 L4.29,6.58 L5.46,8.63 L6.93,9.63 L8.98,9.98 L11.33,9.63 L13.39,8.81 L15.03,7.46 L16.03,5.40 L16.91,3.52 L18.20,1.88 L19.55,0.59 L20.73,0.00 L21.90,0.41 L22.49,1.88 L22.20,3.64 L21.61,4.82 L20.90,5.70 L20.55,7.46 L20.43,10.10 L20.14,13.04 L19.38,15.97 L17.79,18.91 L16.03,20.96 L14.68,22.02 L14.09,22.55 L14.45,23.72 L15.03,25.13 L16.62,25.95 L17.97,26.42 L18.03,27.07 L16.09,26.95 L14.45,26.42 L13.62,25.13 L13.04,23.14 L12.10,22.55 L11.16,22.20 L11.39,23.61 L11.80,24.72 L13.09,25.54 L12.86,26.19 L11.39,25.72 L10.51,24.84 L9.98,21.96 L8.98,20.96 L6.93,19.50 L4.58,17.73 L2.23,15.97 L0.94,14.21 L0.23,11.86 L0.00,9.51 L0.35,7.16 L1.06,5.40 L1.76,3.93 Z" fill="#000" stroke="#000" stroke-width="0.25" stroke-linejoin="round" transform="translate(158.60,48.60) scale(1.02,1.03)"/>
<path d="M2.23,3.17 L3.29,4.23 L4.29,6.58 L5.46,8.63 L6.93,9.63 L8.98,9.98 L11.33,9.63 L13.39,8.81 L15.03,7.46 L16.03,5.40 L16.91,3.52 L18.20,1.88 L19.55,0.59 L20.73,0.00 L21.90,0.41 L22.49,1.88 L22.20,3.64 L21.61,4.82 L20.90,5.70 L20.55,7.46 L20.43,10.10 L20.14,13.04 L19.38,15.97 L17.79,18.91 L16.03,20.96 L14.68,22.02 L14.09,22.55 L14.45,23.72 L15.03,25.13 L16.62,25.95 L17.97,26.42 L18.03,27.07 L16.09,26.95 L14.45,26.42 L13.62,25.13 L13.04,23.14 L12.10,22.55 L11.16,22.20 L11.39,23.61 L11.80,24.72 L13.09,25.54 L12.86,26.19 L11.39,25.72 L10.51,24.84 L9.98,21.96 L8.98,20.96 L6.93,19.50 L4.58,17.73 L2.23,15.97 L0.94,14.21 L0.23,11.86 L0.00,9.51 L0.35,7.16 L1.06,5.40 L1.76,3.93 Z" fill="#000" stroke="#000" stroke-width="0.25" stroke-linejoin="round" transform="translate(504.70,18.30) scale(1.02,1.01)"/>
<path d="M2.23,3.17 L3.29,4.23 L4.29,6.58 L5.46,8.63 L6.93,9.63 L8.98,9.98 L11.33,9.63 L13.39,8.81 L15.03,7.46 L16.03,5.40 L16.91,3.52 L18.20,1.88 L19.55,0.59 L20.73,0.00 L21.90,0.41 L22.49,1.88 L22.20,3.64 L21.61,4.82 L20.90,5.70 L20.55,7.46 L20.43,10.10 L20.14,13.04 L19.38,15.97 L17.79,18.91 L16.03,20.96 L14.68,22.02 L14.09,22.55 L14.45,23.72 L15.03,25.13 L16.62,25.95 L17.97,26.42 L18.03,27.07 L16.09,26.95 L14.45,26.42 L13.62,25.13 L13.04,23.14 L12.10,22.55 L11.16,22.20 L11.39,23.61 L11.80,24.72 L13.09,25.54 L12.86,26.19 L11.39,25.72 L10.51,24.84 L9.98,21.96 L8.98,20.96 L6.93,19.50 L4.58,17.73 L2.23,15.97 L0.94,14.21 L0.23,11.86 L0.00,9.51 L0.35,7.16 L1.06,5.40 L1.76,3.93 Z" fill="#000" stroke="#000" stroke-width="0.25" stroke-linejoin="round" transform="translate(231.60,297.00) scale(1.0,1.0)"/>
<path d="M2.23,3.17 L3.29,4.23 L4.29,6.58 L5.46,8.63 L6.93,9.63 L8.98,9.98 L11.33,9.63 L13.39,8.81 L15.03,7.46 L16.03,5.40 L16.91,3.52 L18.20,1.88 L19.55,0.59 L20.73,0.00 L21.90,0.41 L22.49,1.88 L22.20,3.64 L21.61,4.82 L20.90,5.70 L20.55,7.46 L20.43,10.10 L20.14,13.04 L19.38,15.97 L17.79,18.91 L16.03,20.96 L14.68,22.02 L14.09,22.55 L14.45,23.72 L15.03,25.13 L16.62,25.95 L17.97,26.42 L18.03,27.07 L16.09,26.95 L14.45,26.42 L13.62,25.13 L13.04,23.14 L12.10,22.55 L11.16,22.20 L11.39,23.61 L11.80,24.72 L13.09,25.54 L12.86,26.19 L11.39,25.72 L10.51,24.84 L9.98,21.96 L8.98,20.96 L6.93,19.50 L4.58,17.73 L2.23,15.97 L0.94,14.21 L0.23,11.86 L0.00,9.51 L0.35,7.16 L1.06,5.40 L1.76,3.93 Z" fill="#000" stroke="#000" stroke-width="0.25" stroke-linejoin="round" transform="translate(401.70,325.40) scale(1.0,1.01)"/>
<g fill="#000" transform="translate(294.2,83.0) scale(1.0)"><circle cx="0" cy="2.85" r="2.85"/><rect x="-1.3" y="4.5" width="2.6" height="3"/><path d="M-4.7,6.6 L4.7,6.6 L3.7,9.0 L2.7,13.2 L2.8,17.6 L-2.8,17.6 L-2.7,13.2 L-3.7,9.0 Z"/><path d="M-4.7,6.6 L-3.0,8.4 L-6.6,15.7 L-8.4,15.0 Z"/><path d="M4.7,6.6 L3.0,8.4 L6.6,15.7 L8.4,15.0 Z"/><path d="M-2.8,14.5 L0.6,16.6 L-4.6,28.3 L-7.1,28.3 Z"/><path d="M2.8,14.5 L-0.6,16.6 L4.6,28.3 L7.1,28.3 Z"/></g>
<g fill="#000" transform="translate(625.8,34.4) scale(1.0)"><circle cx="0" cy="2.85" r="2.85"/><rect x="-1.3" y="4.5" width="2.6" height="3"/><path d="M-4.7,6.6 L4.7,6.6 L3.7,9.0 L2.7,13.2 L2.8,17.6 L-2.8,17.6 L-2.7,13.2 L-3.7,9.0 Z"/><path d="M-4.7,6.6 L-3.0,8.4 L-6.6,15.7 L-8.4,15.0 Z"/><path d="M4.7,6.6 L3.0,8.4 L6.6,15.7 L8.4,15.0 Z"/><path d="M-2.8,14.5 L0.6,16.6 L-4.6,28.3 L-7.1,28.3 Z"/><path d="M2.8,14.5 L-0.6,16.6 L4.6,28.3 L7.1,28.3 Z"/></g>
<g fill="#000" transform="translate(306.1,375.8) scale(1.03)"><circle cx="0" cy="2.85" r="2.85"/><rect x="-1.3" y="4.5" width="2.6" height="3"/><path d="M-4.7,6.6 L4.7,6.6 L3.7,9.0 L2.7,13.2 L2.8,17.6 L-2.8,17.6 L-2.7,13.2 L-3.7,9.0 Z"/><path d="M-4.7,6.6 L-3.0,8.4 L-6.6,15.7 L-8.4,15.0 Z"/><path d="M4.7,6.6 L3.0,8.4 L6.6,15.7 L8.4,15.0 Z"/><path d="M-2.8,14.5 L0.6,16.6 L-4.6,28.3 L-7.1,28.3 Z"/><path d="M2.8,14.5 L-0.6,16.6 L4.6,28.3 L7.1,28.3 Z"/></g>
<g transform="translate(504.5,141.5) scale(1.0)"><path d="M12.5,1.6 C14.5,0.1 17.5,-0.2 20.2,1.2 C23.4,3.2 25,7.8 24.8,13 C24.6,18.5 23,23.4 19.6,26.4 C17.6,28 15,28.6 12.5,28.6 C10,28.6 7.4,28 5.4,26.4 C2,23.4 0.4,18.5 0.2,13 C0,7.8 1.6,3.2 4.8,1.2 C7.5,-0.2 10.5,0.1 12.5,1.6 Z" fill="url(#beige)"/><ellipse cx="7" cy="10" rx="3" ry="4" fill="#f2e8d2" opacity="0.7"/><ellipse cx="18" cy="10" rx="3" ry="4" fill="#f2e8d2" opacity="0.7"/><ellipse cx="8" cy="20" rx="2.5" ry="3" fill="#ceb075" opacity="0.6"/><ellipse cx="17" cy="20" rx="2.5" ry="3" fill="#ceb075" opacity="0.6"/><path d="M12.3,9 L12.3,28.5" stroke="#b02818" stroke-width="1.5"/><circle cx="12.3" cy="7.6" r="1.0" fill="#5a3a1a"/><path d="M8.6,28.2 L16.4,28.2 C19.4,31.4 20.6,36 20.2,41 C20,43.5 19.3,45 18.0,46.2 L15.0,42.8 L13.9,50.8 L11.1,50.8 L10.0,42.8 L7.0,46.2 C5.7,45 5.0,43.5 4.8,41 C4.4,36 5.6,31.4 8.6,28.2 Z" fill="#3b230f" transform="translate(-1.4,0)"/><path d="M11.1,29 L11.1,50" stroke="#6a2412" stroke-width="1.5"/></g>
<g transform="translate(573.8,362.2) scale(0.715)"><path d="M12.5,1.6 C14.5,0.1 17.5,-0.2 20.2,1.2 C23.4,3.2 25,7.8 24.8,13 C24.6,18.5 23,23.4 19.6,26.4 C17.6,28 15,28.6 12.5,28.6 C10,28.6 7.4,28 5.4,26.4 C2,23.4 0.4,18.5 0.2,13 C0,7.8 1.6,3.2 4.8,1.2 C7.5,-0.2 10.5,0.1 12.5,1.6 Z" fill="url(#beige)"/><ellipse cx="7" cy="10" rx="3" ry="4" fill="#f2e8d2" opacity="0.7"/><ellipse cx="18" cy="10" rx="3" ry="4" fill="#f2e8d2" opacity="0.7"/><ellipse cx="8" cy="20" rx="2.5" ry="3" fill="#ceb075" opacity="0.6"/><ellipse cx="17" cy="20" rx="2.5" ry="3" fill="#ceb075" opacity="0.6"/><path d="M12.3,9 L12.3,28.5" stroke="#b02818" stroke-width="1.5"/><circle cx="12.3" cy="7.6" r="1.0" fill="#5a3a1a"/><path d="M8.6,28.2 L16.4,28.2 C19.4,31.4 20.6,36 20.2,41 C20,43.5 19.3,45 18.0,46.2 L15.0,42.8 L13.9,50.8 L11.1,50.8 L10.0,42.8 L7.0,46.2 C5.7,45 5.0,43.5 4.8,41 C4.4,36 5.6,31.4 8.6,28.2 Z" fill="#3b230f" transform="translate(-1.4,0)"/><path d="M11.1,29 L11.1,50" stroke="#6a2412" stroke-width="1.5"/></g>
<rect x="571.9" y="435.7" width="21" height="39" fill="#f9f7fc"/>
<g transform="translate(574.1,438.7) scale(1.0)"><path d="M8.35,0.8 C10.5,-0.2 13.6,0.2 15.1,2.5 C16.6,5 16.9,9 16.3,12.5 C15.6,16 13.5,18.6 11,19.2 L5.7,19.2 C3.2,18.6 1.1,16 0.4,12.5 C-0.2,9 0.1,5 1.6,2.5 C3.1,0.2 6.2,-0.2 8.35,0.8 Z" fill="#b36e45"/><ellipse cx="4.0" cy="7.5" rx="2.7" ry="4.6" fill="#8e4429"/><ellipse cx="12.7" cy="7.5" rx="2.7" ry="4.6" fill="#8e4429"/><ellipse cx="3.6" cy="14" rx="2.2" ry="3" fill="#cf9a62"/><ellipse cx="13.1" cy="14" rx="2.2" ry="3" fill="#cf9a62"/><ellipse cx="8.35" cy="11" rx="3.4" ry="5.5" fill="#d8ad78"/><circle cx="8.35" cy="4.5" r="1.1" fill="#5a2a18"/><path d="M6.0,18.4 L10.7,18.4 L10.4,26.8 L6.3,26.8 Z" fill="#3e2414"/><path d="M8.35,19 L8.35,26.5" stroke="#b0723e" stroke-width="0.9"/><path d="M8.35,26.5 L8.35,35" stroke="#dcbc8a" stroke-width="1.3"/></g>
<rect x="288.1" y="7.1" width="39.6" height="43.4" fill="#f7f7f7"/>
<g stroke="#d2d2d2" stroke-width="0.8" fill="none"><path d="M308.8,19 Q308.4,13 308.6,8.5"/><path d="M310.2,19 Q313,13 317.4,8.5"/><path d="M305,23.5 Q298,25.5 292.3,31"/><path d="M313.8,25 Q320,28 325,34"/></g>
<ellipse cx="307.0" cy="34.6" rx="4.7" ry="14.6" transform="rotate(11 307.0 34.6)" fill="#b4b4b4"/>
<ellipse cx="307.3" cy="34.4" rx="3.5" ry="13.2" transform="rotate(11 307.3 34.4)" fill="#dcdcdc"/>
<ellipse cx="309.4" cy="21.6" rx="2.6" ry="2.3" fill="#5a5a5a"/>
<ellipse cx="305.2" cy="36.4" rx="1.2" ry="2.4" fill="#5e5e5e"/>
<ellipse cx="308.2" cy="37.0" rx="1.0" ry="2.2" fill="#6e6e6e"/>
<ellipse cx="304.6" cy="47.4" rx="2.9" ry="1.7" fill="#5e5e5e"/>
</svg>
</body></html>
